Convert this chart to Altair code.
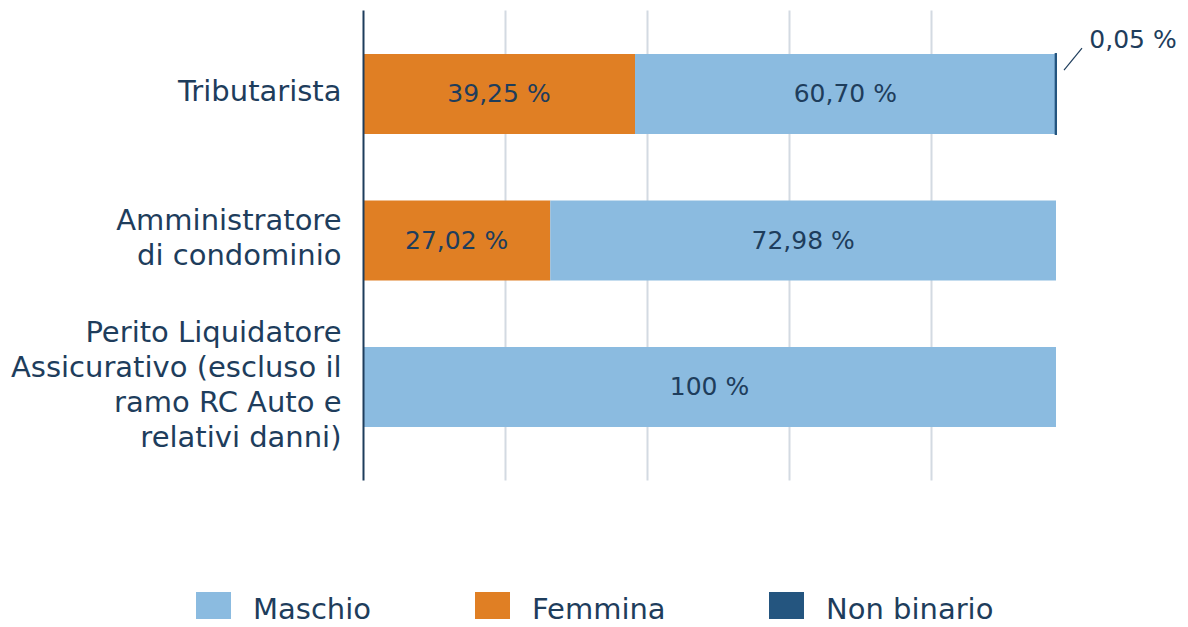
import altair as alt
import pandas as pd

categories = [
    "Tributarista",
    "Amministratore|di condominio",
    "Perito Liquidatore|Assicurativo (escluso il |ramo RC Auto e|relativi danni)",
]
maschio = [60.70, 72.98, 100.0]
femmina = [39.25, 27.02, 0.0]
non_binario = [0.05, 0.0, 0.0]

genders = ["Maschio", "Femmina", "Non binario"]
colors = ["#8BBBE0", "#E07F24", "#24557F"]
stack_order = {"Femmina": 0, "Maschio": 1, "Non binario": 2}
grid_values = [20.5, 41, 61.5, 82]

NAVY = "#1E3D5C"
FONT = "DejaVu Sans"


def fmt(v):
    s = ("%d" % v) if v == int(v) else ("%.2f" % v)
    return s.replace(".", ",") + " %"


rows = []
series = {"Maschio": maschio, "Femmina": femmina, "Non binario": non_binario}
for i, cat in enumerate(categories):
    for g in genders:
        v = series[g][i]
        if v > 0:
            rows.append({"cat": cat, "gender": g, "value": v,
                         "ord": stack_order[g], "label": fmt(v)})
df = pd.DataFrame(rows)

base = alt.Chart(df).transform_stack(
    stack="value", groupby=["cat"], sort=[alt.SortField("ord")], as_=["v0", "v1"]
).transform_calculate(mid="(datum.v0 + datum.v1) / 2")

label_offset = {
    "condition": [
        {"test": "length(split(datum.value, '|')) == 4", "value": -54.5},
        {"test": "length(split(datum.value, '|')) == 2", "value": -20},
    ],
    "value": -2,
}

y_enc = alt.Y(
    "cat:N",
    sort=categories,
    scale=alt.Scale(paddingInner=0.454, paddingOuter=0.331, align=0.454),
    axis=alt.Axis(
        title=None,
        labelExpr="split(datum.label, '|')",
        labelFontSize=29,
        labelColor=NAVY,
        labelFont=FONT,
        labelAlign="right",
        labelBaseline="middle",
        labelLineHeight=35,
        labelOffset=label_offset,
        labelPadding=22,
        labelLimit=500,
        ticks=False,
        domainColor=NAVY,
        domainWidth=2,
        grid=False,
        zindex=1,
    ),
)

x_scale = alt.Scale(domain=[0, 100], nice=False, zero=True)

bars = base.mark_bar().encode(
    x=alt.X(
        "v0:Q",
        scale=x_scale,
        axis=alt.Axis(
            title=None, labels=False, ticks=False, domain=False, grid=True,
            values=grid_values, gridColor="#D3DAE2", gridWidth=2,
        ),
    ),
    x2="v1:Q",
    y=y_enc,
    color=alt.Color(
        "gender:N",
        scale=alt.Scale(domain=genders, range=colors),
        legend=alt.Legend(
            title=None,
            orient="none",
            legendX=-167,
            legendY=582,
            direction="horizontal",
            symbolType="square",
            symbolSize=1225,
            symbolStrokeWidth=0,
            symbolOpacity=1,
            labelFontSize=29,
            labelColor=NAVY,
            labelFont=FONT,
            labelOffset=22,
            labelLimit=400,
            columnPadding=103,
        ),
    ),
    stroke=alt.Stroke("gender:N", scale=alt.Scale(domain=genders, range=colors), legend=None),
    strokeWidth=alt.condition("datum.gender == 'Non binario'", alt.value(2), alt.value(0)),
    order=alt.Order("ord:Q"),
)

inner_text = base.transform_filter("datum.value >= 1").mark_text(
    fontSize=25, color=NAVY, font=FONT, align="center", baseline="middle"
).encode(x=alt.X("mid:Q", scale=x_scale), y=alt.Y("cat:N", sort=categories), text="label:N")

outer_text = base.transform_filter("datum.value < 1").mark_text(
    fontSize=25, color=NAVY, font=FONT, align="center", baseline="middle", dx=77, dy=-54
).encode(x=alt.X("v1:Q", scale=x_scale), y=alt.Y("cat:N", sort=categories), text="label:N")

leader = base.transform_filter("datum.value < 1").mark_rule(
    color=NAVY, strokeWidth=1.2, xOffset=8, x2Offset=26, yOffset=-24, y2Offset=-46
).encode(
    x=alt.X("v1:Q", scale=x_scale),
    x2="v1:Q",
    y=alt.Y("cat:N", sort=categories),
    y2="cat:N",
)

chart = alt.layer(bars, inner_text, outer_text, leader).properties(
    width=693,
    height=470,
    autosize=alt.AutoSizeParams(type="none"),
    padding={"left": 355, "top": 2, "right": 124, "bottom": 139},
).configure(font=FONT).configure_view(stroke=None)

chart.save("out.html", embed_options={"renderer": "svg", "actions": False})
